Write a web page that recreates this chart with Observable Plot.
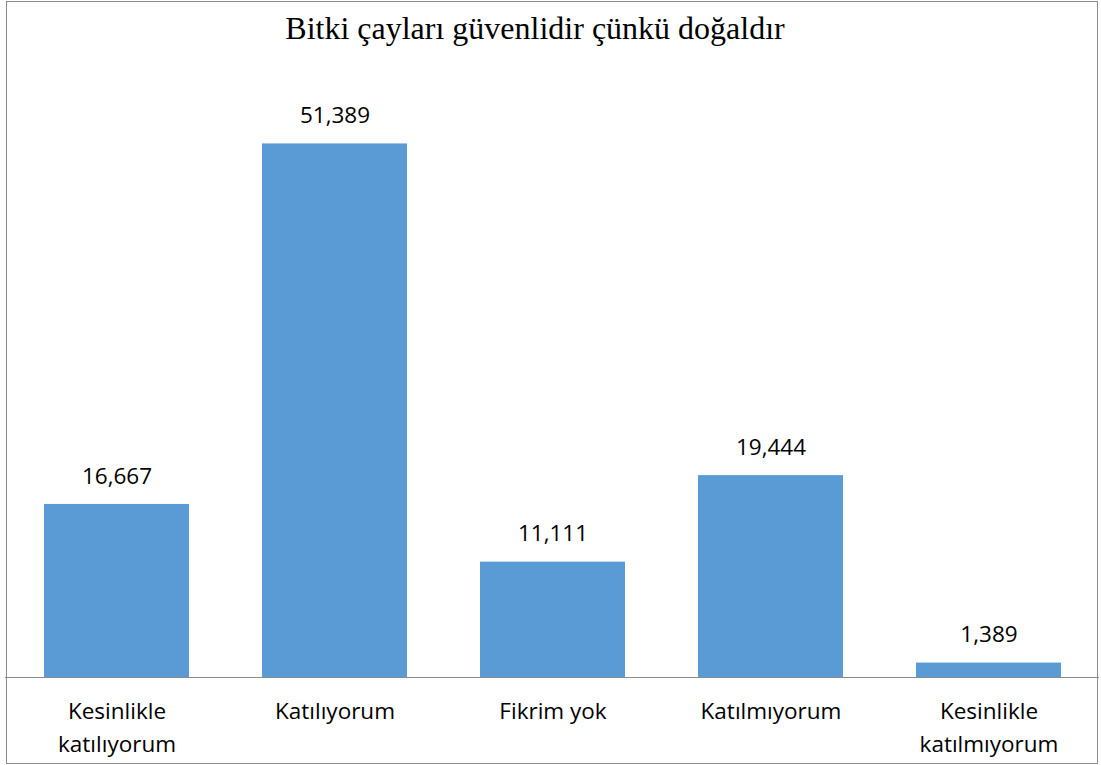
<!DOCTYPE html>
<html>
<head>
<meta charset="utf-8">
<script src="https://cdn.jsdelivr.net/npm/d3@7"></script>
<script src="https://cdn.jsdelivr.net/npm/@observablehq/plot@0.6"></script>
<style>
  html, body { margin: 0; padding: 0; background: #fff; }
  #wrap { position: relative; width: 1101px; height: 765px; overflow: hidden; }
  #frame { position: absolute; left: 6px; top: 1px; width: 1090px; height: 761px; border: 1px solid #8c8c8c; box-sizing: content-box; }
  #title { position: absolute; left: 0; top: 10px; width: 1070px; text-align: center; font-family: "Liberation Serif", "DejaVu Serif", serif; font-size: 32px; color: #000; }
  #chart { position: absolute; left: 0; top: 0; }
</style>
</head>
<body>
<div id="wrap">
  <div id="frame"></div>
  <div id="chart"></div>
  <div id="title">Bitki çayları güvenlidir çünkü doğaldır</div>
</div>
<script>
const categories = ["Kesinlikle\nkatılıyorum", "Katılıyorum", "Fikrim yok", "Katılmıyorum", "Kesinlikle\nkatılmıyorum"];
const values = [16.667, 51.389, 11.111, 19.444, 1.389];

const data = categories.map((c, i) => ({category: c, value: values[i]}));
const fmt = v => d3.format(".3f")(v).replace(".", ",");

const chart = Plot.plot({
  width: 1101,
  height: 765,
  marginLeft: 5,
  marginRight: 2,
  marginTop: 54,
  marginBottom: 88,
  style: {fontFamily: "'Open Sans', 'Noto Sans', sans-serif", background: "transparent"},
  x: {domain: categories, paddingInner: 0.336, paddingOuter: 0.168, axis: null},
  y: {domain: [0, 60], axis: null},
  marks: [
    Plot.barY(data, {x: "category", y: "value", fill: "#5B9BD5"}),
    Plot.ruleY([0], {stroke: "#8c8c8c", strokeWidth: 1}),
    Plot.text(data, {x: "category", y: "value", text: d => fmt(d.value), dy: -28, fontSize: 22.5, fill: "#000"}),
    Plot.text(data, {x: "category", y: 0, text: "category", lineAnchor: "top", dy: 18, lineHeight: 1.47, fontSize: 22.5, fill: "#000"})
  ]
});
document.getElementById("chart").appendChild(chart);
</script>
</body>
</html>
